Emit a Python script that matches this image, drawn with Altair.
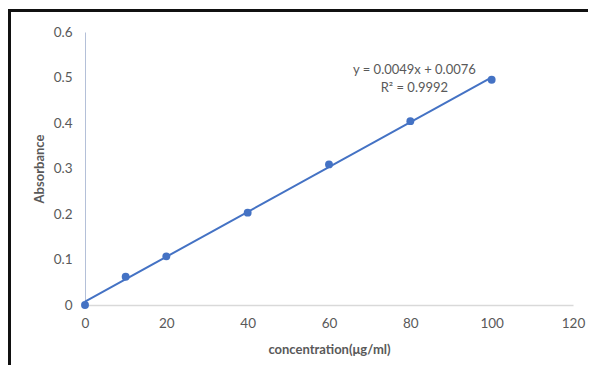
import altair as alt
import pandas as pd

conc = [0, 10, 20, 40, 60, 80, 100]
absorbance = [0.0, 0.062, 0.107, 0.203, 0.309, 0.404, 0.495]
x_ticks = [0, 20, 40, 60, 80, 100, 120]
y_ticks = [0, 0.1, 0.2, 0.3, 0.4, 0.5, 0.6]
eq_text = "y = 0.0049x + 0.0076"
r2_text = "R² = 0.9992"

df = pd.DataFrame({"x": conc, "y": absorbance})

FONT = "Lato"
GRAY = "#595959"
BLUE = "#4472c4"

xs = alt.Scale(domain=[0, 120], nice=False)
ys = alt.Scale(domain=[0, 0.6], nice=False)

base = alt.Chart(df)

xaxis = alt.Axis(values=x_ticks, title="concentration(μg/ml)", grid=False, ticks=False,
                 domainColor="#d9d9d9", domainWidth=1.5, labelColor=GRAY, labelFont=FONT,
                 labelFontSize=13.5, labelPadding=11, labelFlush=False, titleFont=FONT,
                 titleFontSize=13, titleFontWeight="bold", titleColor=GRAY, titlePadding=14)
yaxis = alt.Axis(values=y_ticks, format=".1~f", title="Absorbance", grid=False, ticks=False,
                 domainColor="#b4c0d8", labelColor=GRAY, labelFont=FONT, labelFontSize=13.5,
                 labelPadding=13, labelFlush=False, titleFont=FONT, titleFontSize=13,
                 titleFontWeight="bold", titleColor=GRAY, titlePadding=7)

trend = base.transform_regression("x", "y", method="linear", extent=[0, 100]).mark_line(
    color=BLUE, strokeWidth=2
).encode(x=alt.X("x:Q", scale=xs, axis=xaxis), y=alt.Y("y:Q", scale=ys, axis=yaxis))

pts = base.mark_circle(color=BLUE, size=62, opacity=1).encode(
    x=alt.X("x:Q", scale=xs), y=alt.Y("y:Q", scale=ys)
)

eq = alt.Chart(pd.DataFrame({"t": [eq_text]})).mark_text(
    font=FONT, fontSize=13, color=GRAY, align="center", baseline="middle"
).encode(x=alt.datum(81, scale=xs), y=alt.datum(0.516, scale=ys), text="t:N")

r2 = alt.Chart(pd.DataFrame({"t": [r2_text]})).mark_text(
    font=FONT, fontSize=13, color=GRAY, align="center", baseline="middle"
).encode(x=alt.datum(81, scale=xs), y=alt.datum(0.478, scale=ys), text="t:N")

frame_left = alt.Chart(df).mark_rule(color="#111111", strokeWidth=3).encode(
    x=alt.value(-76), y=alt.value(-23), y2=alt.value(340)
)
frame_top = alt.Chart(df).mark_rule(color="#111111", strokeWidth=3).encode(
    x=alt.value(-77.5), x2=alt.value(520), y=alt.value(-21.5)
)

chart = alt.layer(frame_left, frame_top, trend, pts, eq, r2).properties(
    width=488, height=273,
    padding={"left": 77, "top": 24, "right": 15, "bottom": 60},
    autosize=alt.AutoSizeParams(type="none"),
).configure_view(stroke=None)

chart.save("out.html", embed_options={"renderer": "svg", "actions": False})
